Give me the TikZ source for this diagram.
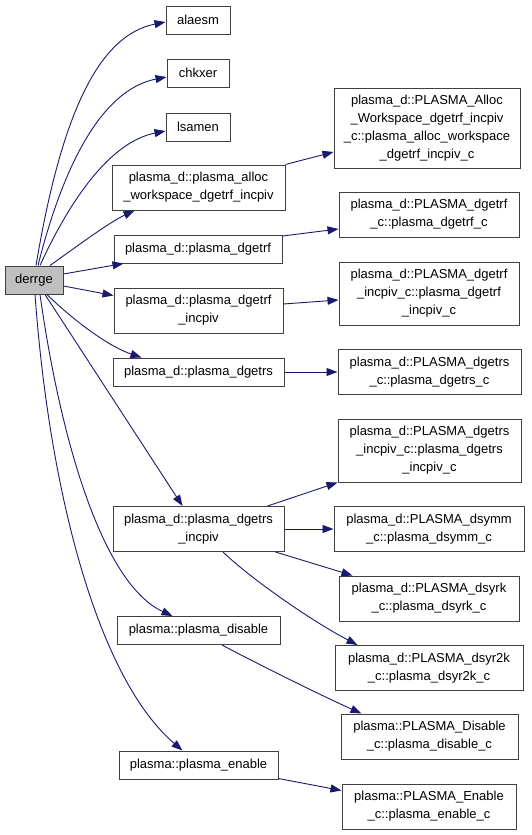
\documentclass[tikz,border=0pt]{standalone}
\usepackage{fontspec}
\setmainfont{Liberation Sans}
\usetikzlibrary{arrows.meta,calc}
\definecolor{edgecol}{HTML}{191970}
\definecolor{boxline}{HTML}{404040}
\definecolor{rootfill}{HTML}{BFBFBF}
\begin{document}
\begin{tikzpicture}[x=1pt,y=-1pt,
  box/.style={draw=boxline,line width=1pt,fill=white,inner sep=0pt,align=center,
    font=\fontsize{13}{18}\selectfont},
  edge/.style={draw=edgecol,line width=0.9pt,-{Triangle[length=11pt,width=8pt]}}]
\useasboundingbox (0,0) rectangle (531,835);
% left column
\node[box,fill=rootfill,minimum width=58pt,minimum height=28pt] (derrge) at (34,280) {derrge};
\node[box,minimum width=64pt,minimum height=28pt] (alaesm) at (198,20) {alaesm};
\node[box,minimum width=62pt,minimum height=28pt] (chkxer) at (198,73) {chkxer};
\node[box,minimum width=64pt,minimum height=28pt] (lsamen) at (198,127) {lsamen};
\node[box,minimum width=173pt,minimum height=45pt] (alloc) at (198.5,187.5) {plasma\_d::plasma\_alloc\\\_workspace\_dgetrf\_incpiv};
\node[box,minimum width=168pt,minimum height=28pt] (dgetrf) at (198,249) {plasma\_d::plasma\_dgetrf};
\node[box,minimum width=169pt,minimum height=45pt] (dgetrfi) at (198.5,310.5) {plasma\_d::plasma\_dgetrf\\\_incpiv};
\node[box,minimum width=171pt,minimum height=28pt] (dgetrs) at (198.5,372) {plasma\_d::plasma\_dgetrs};
\node[box,minimum width=171pt,minimum height=45pt] (dgetrsi) at (198.5,529) {plasma\_d::plasma\_dgetrs\\\_incpiv};
\node[box,minimum width=163pt,minimum height=28pt] (disable) at (198.5,630.5) {plasma::plasma\_disable};
\node[box,minimum width=159pt,minimum height=28pt] (enable) at (198.5,765) {plasma::plasma\_enable};
% right column
\node[box,minimum width=186pt,minimum height=80pt] (allocc) at (427,128) {plasma\_d::PLASMA\_Alloc\\\_Workspace\_dgetrf\_incpiv\\\_c::plasma\_alloc\_workspace\\\_dgetrf\_incpiv\_c};
\node[box,minimum width=180pt,minimum height=45pt] (dgetrfc) at (429,214.5) {plasma\_d::PLASMA\_dgetrf\\\_c::plasma\_dgetrf\_c};
\node[box,minimum width=180pt,minimum height=63pt] (dgetrfic) at (429,293.5) {plasma\_d::PLASMA\_dgetrf\\\_incpiv\_c::plasma\_dgetrf\\\_incpiv\_c};
\node[box,minimum width=183pt,minimum height=45pt] (dgetrsc) at (429.5,372) {plasma\_d::PLASMA\_dgetrs\\\_c::plasma\_dgetrs\_c};
\node[box,minimum width=183pt,minimum height=63pt] (dgetrsic) at (429.5,450.5) {plasma\_d::PLASMA\_dgetrs\\\_incpiv\_c::plasma\_dgetrs\\\_incpiv\_c};
\node[box,minimum width=190pt,minimum height=45pt] (dsymm) at (429,529) {plasma\_d::PLASMA\_dsymm\\\_c::plasma\_dsymm\_c};
\node[box,minimum width=180pt,minimum height=45pt] (dsyrk) at (429,598.5) {plasma\_d::PLASMA\_dsyrk\\\_c::plasma\_dsyrk\_c};
\node[box,minimum width=188pt,minimum height=45pt] (dsyrtwok) at (429,668) {plasma\_d::PLASMA\_dsyr2k\\\_c::plasma\_dsyr2k\_c};
\node[box,minimum width=177pt,minimum height=45pt] (disablec) at (429.5,736.5) {plasma::PLASMA\_Disable\\\_c::plasma\_disable\_c};
\node[box,minimum width=174pt,minimum height=45pt] (enablec) at (429,806.5) {plasma::PLASMA\_Enable\\\_c::plasma\_enable\_c};
% edges from derrge
\draw[edge] ($(derrge.north)+(2,0)$) .. controls (62,110) and (100,35) .. ($(alaesm.west)+(0,2)$);
\draw[edge] ($(derrge.north)+(4,0)$) .. controls (62,170) and (100,90) .. ($(chkxer.west)+(0,4)$);
\draw[edge] ($(derrge.north)+(6,0)$) .. controls (70,200) and (110,142) .. ($(lsamen.west)+(0,4)$);
\draw[edge] ($(derrge.north)+(16,0)$) .. controls (80,244) and (110,222) .. ($(alloc.south west)+(23,0)$);
\draw[edge] ($(derrge.east)+(0,-6)$) -- ($(dgetrf.south west)+(10,0)$);
\draw[edge] ($(derrge.east)+(0,6)$) -- ($(dgetrfi.west)+(0,-15)$);
\draw[edge] ($(derrge.south)+(13,0)$) .. controls (75,322) and (110,347) .. ($(dgetrs.north west)+(29,0)$);
\draw[edge] ($(derrge.south)+(11,0)$) -- ($(dgetrsi.north west)+(70,0)$);
\draw[edge] ($(derrge.south)+(6,0)$) .. controls (62,450) and (105,585) .. ($(disable.north west)+(56,0)$);
\draw[edge] ($(derrge.south)+(1,0)$) .. controls (50,500) and (100,680) .. ($(enable.north west)+(64,0)$);
% right edges
\draw[edge] (alloc.north east) -- ($(allocc.west)+(0,24)$);
\draw[edge] ($(dgetrf.east)+(0,-13)$) -- ($(dgetrfc.west)+(0,14.5)$);
\draw[edge] ($(dgetrfi.east)+(0,-6.5)$) -- ($(dgetrfic.west)+(0,6.5)$);
\draw[edge] (dgetrs.east) -- (dgetrsc.west);
\draw[edge] ($(dgetrsi.north east)+(-17,0)$) -- (dgetrsic.south west);
\draw[edge] (dgetrsi.east) -- (dsymm.west);
\draw[edge] ($(dgetrsi.south east)+(-9,0)$) -- ($(dsyrk.north west)+(14,0)$);
\draw[edge] ($(dgetrsi.south)+(24.5,0)$) .. controls (250,578) and (310,620) .. ($(dsyrtwok.north west)+(23,0)$);
\draw[edge] ($(disable.south)+(23.5,0)$) .. controls (250,660) and (320,695) .. ($(disablec.north west)+(21,0)$);
\draw[edge] ($(enable.south east)+(0,-1)$) -- ($(enablec.west)+(0,-16)$);
\end{tikzpicture}
\end{document}
